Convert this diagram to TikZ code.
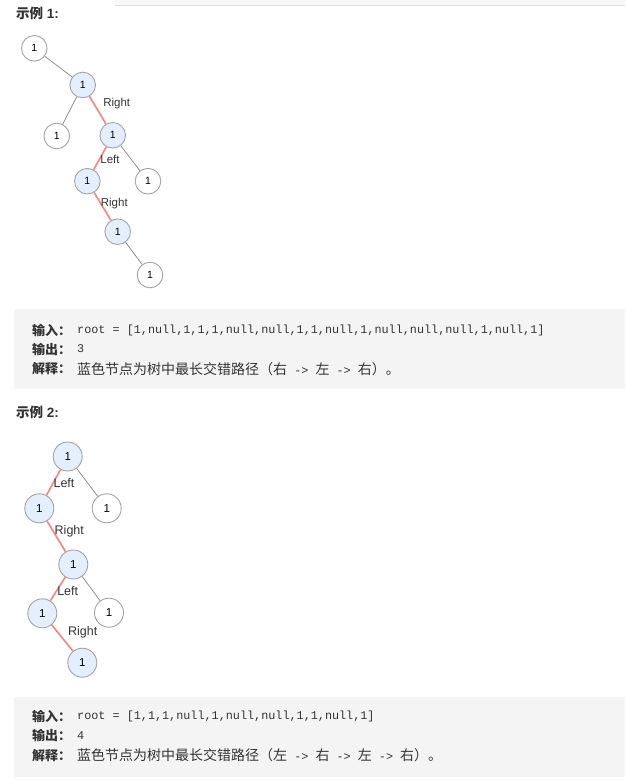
\documentclass[tikz,border=0pt]{standalone}
\usepackage{fontspec}
\setmainfont{Liberation Sans}
\newfontfamily\cjk{Noto Sans CJK SC}
\newfontfamily\mono{Liberation Mono}
\usepackage{xcolor}
\definecolor{nodeblue}{HTML}{E3EFFC}
\definecolor{nodeline}{HTML}{A3A3A3}
\definecolor{redpath}{HTML}{FF8080}
\definecolor{edgegray}{HTML}{8E8E8E}
\definecolor{boxgray}{HTML}{F4F4F4}
\definecolor{txt}{HTML}{333333}

\begin{document}
\begin{tikzpicture}[x=1pt,y=-1pt,
	leaf/.style={circle,draw=nodeline,line width=0.9pt,fill=white,inner sep=0pt,minimum size=25.6pt,font=\fontsize{10.5}{10.5}\selectfont},
	onpath/.style={leaf,fill=nodeblue},
	big/.style={minimum size=29pt,font=\fontsize{11.5}{11.5}\selectfont},
	plain/.style={draw=edgegray,line width=0.8pt},
	hl/.style={draw=redpath,line width=1.6pt},
	side/.style={text=txt,inner sep=0pt},
	row/.style={anchor=west,inner sep=0pt,text=txt}]
		\useasboundingbox (0,0) rectangle (625,781);
		\fill[boxgray!60] (115,0) rectangle (625,5);
		\draw[gray!25] (115,5) -- (625,5);

		% example 1
		\node[row] (head1) at (16,13.5) {\fontsize{13.5}{14}\selectfont\bfseries{\cjk 示例} 1:};
		\node[leaf] (a1) at (34.3,48.3) {1};
		\node[onpath] (b1) at (82.7,85) {1};
		\node[leaf] (c1) at (56.7,136) {1};
		\node[onpath] (d1) at (112.7,135.3) {1};
		\node[onpath] (e1) at (87.3,181.2) {1};
		\node[leaf] (f1) at (148,181.2) {1};
		\node[onpath] (g1) at (117.7,231.7) {1};
		\node[leaf] (h1) at (150,275) {1};
		\draw[plain] (a1) -- (b1);
		\draw[plain] (b1) -- (c1);
		\draw[hl] (b1) -- (d1);
		\draw[hl] (d1) -- (e1);
		\draw[plain] (d1) -- (f1);
		\draw[hl] (e1) -- (g1);
		\draw[plain] (g1) -- (h1);
		\node[side,font=\fontsize{11.5}{11.5}\selectfont] (r1a) at (116.7,103.3) {Right};
		\node[side,font=\fontsize{11.5}{11.5}\selectfont] (l1a) at (110,159.3) {Left};
		\node[side,font=\fontsize{11.5}{11.5}\selectfont] (r1b) at (114.3,203.3) {Right};

		\fill[boxgray] (13.5,309) rectangle (625,389);
		\node[row] (in1k) at (32,330) {\fontsize{13}{14}\selectfont\cjk\bfseries 输入：};
		\node[row] (in1v) at (77,330) {\fontsize{11.8}{14}\selectfont\mono root = [1,null,1,1,1,null,null,1,1,null,1,null,null,null,1,null,1]};
		\node[row] (out1k) at (32,349) {\fontsize{13}{14}\selectfont\cjk\bfseries 输出：};
		\node[row] (out1v) at (77,349) {\fontsize{11.8}{14}\selectfont\mono 3};
		\node[row] (ex1k) at (32,369) {\fontsize{13}{14}\selectfont\cjk\bfseries 解释：};
		\node[row] (ex1v) at (77,369) {\fontsize{14}{14}\selectfont\cjk 蓝色节点为树中最长交错路径（右{\fontsize{11.8}{14}\selectfont\mono{} -> }左{\fontsize{11.8}{14}\selectfont\mono{} -> }右）。};

		% example 2
		\node[row] (head2) at (16,412) {\fontsize{13.5}{14}\selectfont\bfseries{\cjk 示例} 2:};
		\node[onpath,big] (a2) at (67.7,456.5) {1};
		\node[onpath,big] (b2) at (39.3,508.3) {1};
		\node[leaf,big] (c2) at (106.7,508.3) {1};
		\node[onpath,big] (d2) at (73.3,564.5) {1};
		\node[onpath,big] (e2) at (42.3,613.3) {1};
		\node[leaf,big] (f2) at (109,612.7) {1};
		\node[onpath,big] (g2) at (82.3,662.7) {1};
		\draw[hl] (a2) -- (b2);
		\draw[plain] (a2) -- (c2);
		\draw[hl] (b2) -- (d2);
		\draw[hl] (d2) -- (e2);
		\draw[plain] (d2) -- (f2);
		\draw[hl] (e2) -- (g2);
		\node[side,font=\fontsize{12.5}{12.5}\selectfont] (l2a) at (64,483.3) {Left};
		\node[side,font=\fontsize{12.5}{12.5}\selectfont] (r2a) at (69.3,531.7) {Right};
		\node[side,font=\fontsize{12.5}{12.5}\selectfont] (l2b) at (67.7,590.7) {Left};
		\node[side,font=\fontsize{12.5}{12.5}\selectfont] (r2b) at (82.7,632) {Right};

		\fill[boxgray] (13.5,697) rectangle (625,777);
		\node[row] (in2k) at (32,716) {\fontsize{13}{14}\selectfont\cjk\bfseries 输入：};
		\node[row] (in2v) at (77,716) {\fontsize{11.8}{14}\selectfont\mono root = [1,1,1,null,1,null,null,1,1,null,1]};
		\node[row] (out2k) at (32,735.5) {\fontsize{13}{14}\selectfont\cjk\bfseries 输出：};
		\node[row] (out2v) at (77,735.5) {\fontsize{11.8}{14}\selectfont\mono 4};
		\node[row] (ex2k) at (32,755.5) {\fontsize{13}{14}\selectfont\cjk\bfseries 解释：};
		\node[row] (ex2v) at (77,755.5) {\fontsize{14}{14}\selectfont\cjk 蓝色节点为树中最长交错路径（左{\fontsize{11.8}{14}\selectfont\mono{} -> }右{\fontsize{11.8}{14}\selectfont\mono{} -> }左{\fontsize{11.8}{14}\selectfont\mono{} -> }右）。};
	\end{tikzpicture}
\end{document}
